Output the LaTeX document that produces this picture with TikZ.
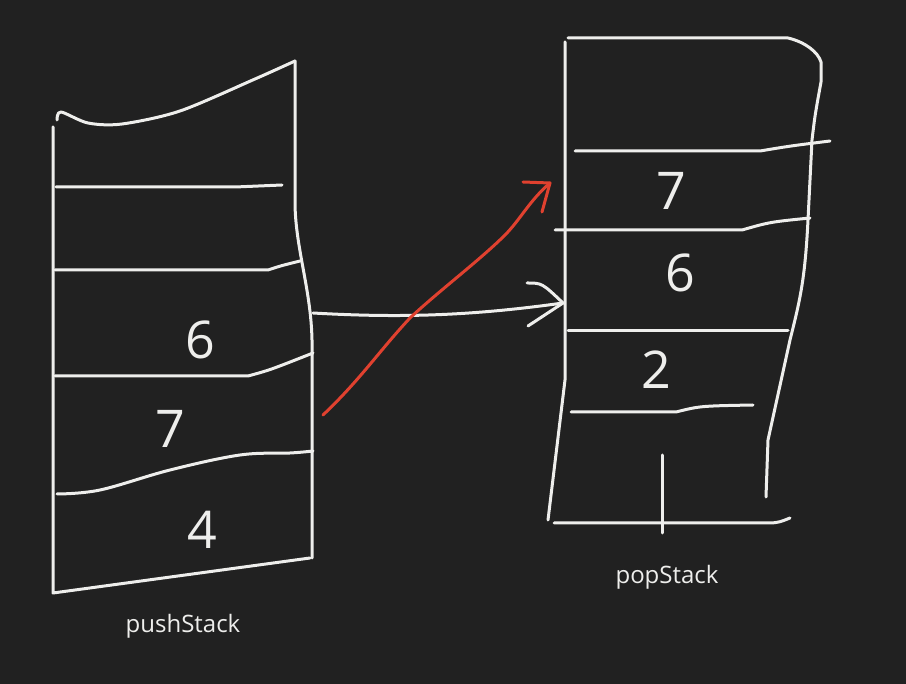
\documentclass[tikz,border=0pt]{standalone}
\usepackage{fontspec}
\setmainfont{Open Sans}
\definecolor{bg}{HTML}{212121}
\definecolor{ink}{HTML}{EEEEEC}
\definecolor{redink}{HTML}{E0412F}
\begin{document}
\begin{tikzpicture}[x=1pt,y=-1pt,
  stroke/.style={draw=ink,line width=3pt,line cap=round,line join=round},
  redstroke/.style={draw=redink,line width=3pt,line cap=round,line join=round},
  digit/.style={text=ink,inner sep=0pt,font=\fontsize{52}{52}\selectfont},
  lbl/.style={text=ink,inner sep=0pt,font=\fontsize{24}{26}\selectfont}]
\fill[bg] (0,0) rectangle (906,684);
\useasboundingbox (0,0) rectangle (906,684);

% ---------- pushStack ----------
\draw[stroke] plot[smooth,tension=0.5] coordinates {(57,120) (61,112) (88,123) (122,124) (180,111) (255,79) (295,61)};
\draw[stroke] (53,127) -- (53,593) -- (310,558);
\draw[stroke] (295,61) -- (295,205) .. controls (296,250) and (311,290) .. (312,340) -- (312,558);
\draw[stroke] (56,187) -- (235,187) -- (282,185);
\draw[stroke] (55,270) -- (268,270) .. controls (280,266) .. (300,261);
\draw[stroke] (55,376) -- (248,376) .. controls (270,370) .. (313,353);
\draw[stroke] plot[smooth,tension=0.6] coordinates {(57,494) (100,490) (170,470) (240,455) (290,453) (313,451)};
\node[digit] (p6) at (200,340) {6};
\node[digit] (p7) at (170,429) {7};
\node[digit] (p4) at (202,530) {4};
\node[lbl] (pushlbl) at (183,626) {pushStack};
\coordinate (pushR) at (313,313);
\coordinate (redA) at (323,415);

% ---------- popStack ----------
\draw[stroke] (565,42) -- (565,380) -- (548,520);
\draw[stroke] (568,38) -- (788,38) .. controls (805,42) and (818,52) .. (821,62) -- (821,82)
  .. controls (815,115) .. (812,140) -- (808,220) .. controls (805,280) and (800,300) .. (790,340)
  -- (768,440) -- (766,497);
\draw[stroke] (575,151) -- (760,151) .. controls (790,146) .. (830,141);
\draw[stroke] (555,230) -- (742,230) .. controls (770,222) .. (810,218);
\draw[stroke] (568,331) -- (788,331);
\draw[stroke] (571,412) -- (676,412) .. controls (700,406) .. (753,405);
\draw[stroke] (554,523) -- (772,523) .. controls (780,522) .. (790,518);
\draw[stroke] (662,455) -- (662,533);
\node[digit] (q7) at (671,191) {7};
\node[digit] (q6) at (680,273) {6};
\node[digit] (q2) at (656,370) {2};
\node[lbl] (poplbl) at (667,577) {popStack};
\coordinate (popL) at (563,303);
\coordinate (redB) at (550,183);

% ---------- connectors ----------
\draw[stroke] (pushR) .. controls (400,318) and (470,316) .. (popL);
\draw[stroke] (527,283) .. controls (542,283) .. (popL) -- (528,326);
\draw[redstroke] (redA) .. controls (360,380) and (380,350) .. (410,318)
  .. controls (440,290) and (480,260) .. (505,235) .. controls (520,220) and (530,200) .. (redB);
\draw[redstroke] (523,182) -- (redB) -- (542,212);
\end{tikzpicture}
\end{document}
